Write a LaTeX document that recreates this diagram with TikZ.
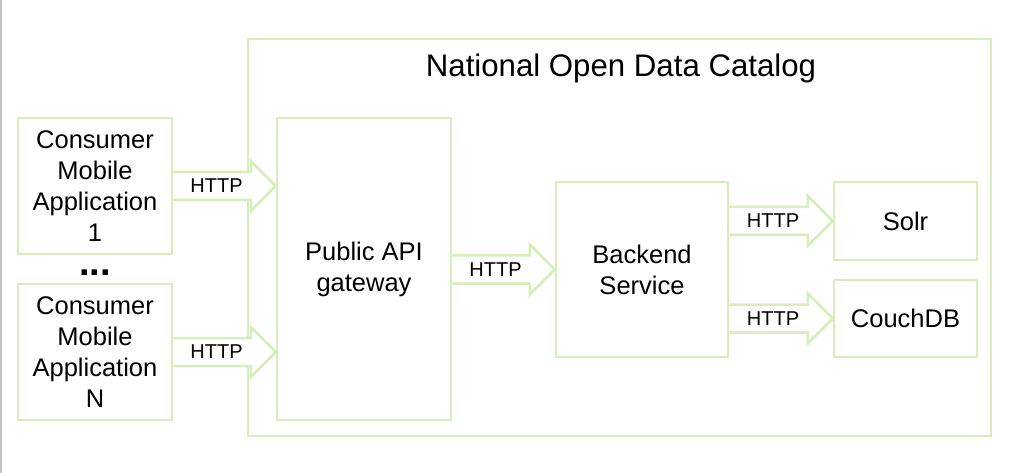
\documentclass[tikz,border=0pt]{standalone}
\usepackage{fontspec}
\setmainfont{Liberation Sans}
\usetikzlibrary{calc}
\definecolor{leaf}{HTML}{D6EFBA}
\definecolor{edge}{HTML}{C4C4C4}
\begin{document}
\begin{tikzpicture}[x=1pt,y=-1pt,
  box/.style={draw=leaf, line width=2.5pt, fill=white, inner sep=0pt, align=center,
    font=\fontsize{25.5}{31}\selectfont},
  http/.style={font=\fontsize{20}{24}\selectfont, inner sep=0pt},
  flow/.style={draw=leaf, fill=white, line width=2.5pt, line join=miter,
    to path={let \p1=(\tikztostart), \p2=(\tikztotarget) in
      (\x1,\y1+14pt) -- (\x2-25pt,\y1+14pt) -- (\x2-25pt,\y1+25pt) -- (\x2,\y1)
      -- (\x2-25pt,\y1-25pt) -- (\x2-25pt,\y1-14pt) -- (\x1,\y1-14pt)
      ($(\x1,\y1)!0.5!(\x2,\y1)+(-8pt,0)$) node[http] {HTTP}}}]
  \useasboundingbox (0,0) rectangle (1015,473);
  \fill[white] (0,0) rectangle (1015,473);
  \draw[edge, line width=1.5pt] (0.75,0) -- (0.75,473);

  % catalog frame
  \node[box, minimum width=743pt, minimum height=397pt] (catalog) at (619.5,237.5) {};
  \node[font=\fontsize{31.2}{36}\selectfont] (title) at (621,68) {National Open Data Catalog};

  % consumers
  \node[box, minimum width=154pt, minimum height=136pt] (app1) at (95,186)
    {Consumer\\Mobile\\Application\\1};
  \node[box, minimum width=154pt, minimum height=136pt] (appN) at (95,352)
    {Consumer\\Mobile\\Application\\N};
  \node[anchor=base, font=\bfseries\fontsize{38}{38}\selectfont, inner sep=0pt] (dots) at (95,276) {...};

  % services
  \node[box, minimum width=174pt, minimum height=302pt] (gateway) at (364,269)
    {Public API\\gateway};
  \node[box, minimum width=172pt, minimum height=175pt] (backend) at (642,269.5)
    {Backend\\Service};
  \node[box, minimum width=143pt, minimum height=78pt] (solr) at (905.5,221) {Solr};
  \node[box, minimum width=143pt, minimum height=77pt] (couch) at (905.5,318.5) {CouchDB};

  % HTTP block arrows
  \draw[flow] (app1.east) to (gateway.west |- app1.east);
  \draw[flow] (appN.east) to (gateway.west |- appN.east);
  \draw[flow] (gateway.east |- backend.west) to (backend.west);
  \draw[flow] (backend.east |- solr.west) to (solr.west);
  \draw[flow] (backend.east |- couch.west) to (couch.west);
\end{tikzpicture}
\end{document}
